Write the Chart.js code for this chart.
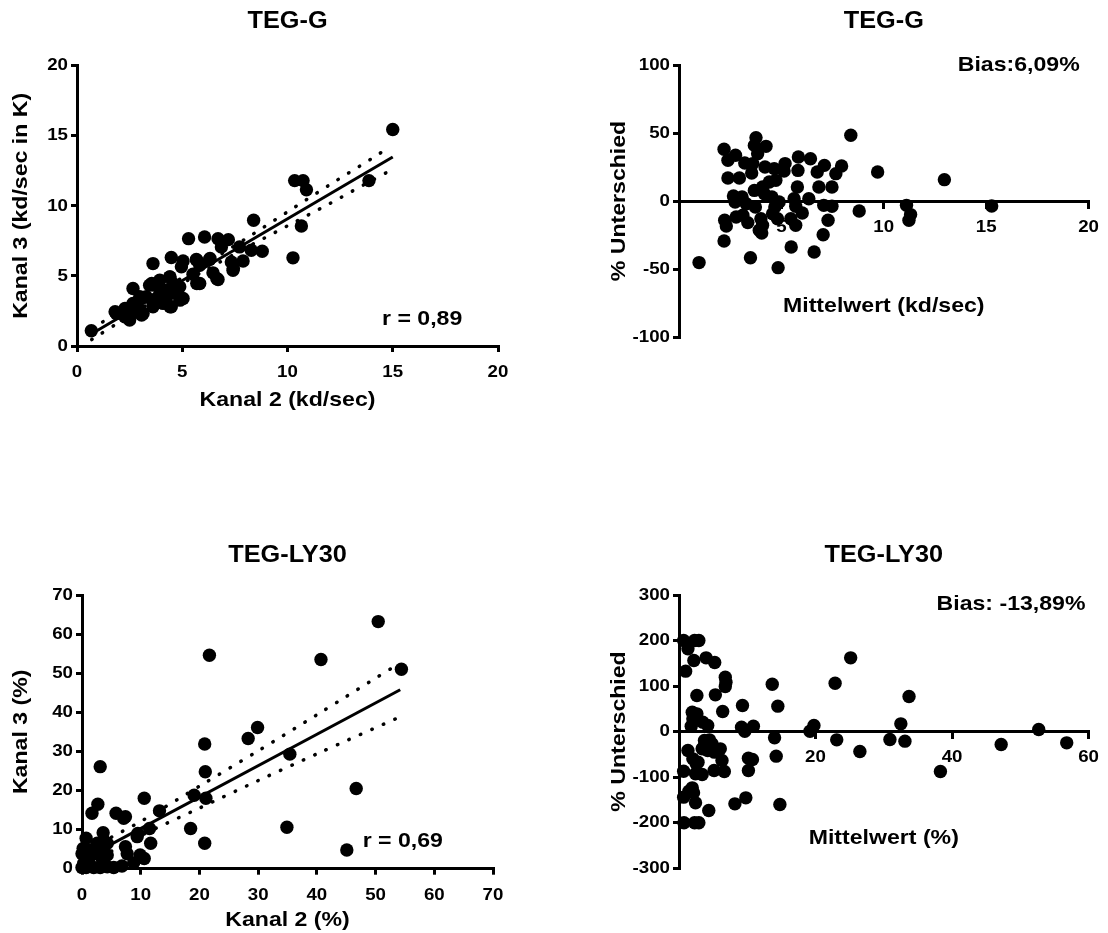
<!DOCTYPE html>
<html>
<head>
<meta charset="utf-8">
<script src="https://cdn.jsdelivr.net/npm/chart.js@4/dist/chart.umd.min.js"></script>
<style>
  html, body { margin: 0; padding: 0; background: #fff; }
  .panel { position: absolute; }
</style>
</head>
<body>
<div class="panel" style="left:0;top:0"><canvas id="g-corr" width="540" height="420"></canvas></div>
<div class="panel" style="left:590px;top:0"><canvas id="g-ba" width="518" height="420"></canvas></div>
<div class="panel" style="left:0;top:534px"><canvas id="ly-corr" width="540" height="399"></canvas></div>
<div class="panel" style="left:590px;top:534px"><canvas id="ly-ba" width="518" height="399"></canvas></div>
<script>
// TEG-G: Kanal 2 vs Kanal 3 (kd/sec)
const g_kanal2 = [0.68, 15.0, 10.34, 10.74, 10.9, 10.66, 10.26, 13.87, 8.39, 8.8, 8.28, 7.89, 7.72, 7.19, 6.70, 6.86, 7.41, 7.33, 6.06, 5.30, 6.30, 5.67, 5.04, 4.96, 6.70, 6.46, 5.83, 5.51, 5.83, 4.48, 3.61, 2.66, 3.45, 3.69, 3.93, 4.40, 4.56, 4.88, 5.04, 4.48, 4.09, 3.77, 3.61, 3.14, 2.98, 2.58, 2.50, 2.34, 1.87, 2.82, 3.29, 4.24, 4.72, 4.32, 2.98, 2.66, 2.27, 2.58, 1.81, 2.28, 3.07, 3.55, 4.42, 4.89, 5.69, 6.32, 7.43, 6.64, 5.69, 3.94, 3.62, 2.76, 4.42];
const g_kanal3 = [1.09, 15.45, 11.8, 11.8, 11.15, 8.56, 6.29, 11.8, 8.97, 6.76, 6.83, 6.07, 7.07, 7.59, 7.66, 7.07, 5.41, 6.0, 7.78, 7.66, 6.17, 6.17, 6.07, 5.65, 4.74, 5.22, 4.46, 5.12, 5.76, 6.31, 5.88, 4.10, 4.34, 4.34, 4.70, 4.93, 4.46, 4.22, 3.39, 2.80, 3.04, 3.39, 2.80, 2.32, 2.56, 2.32, 1.85, 2.56, 2.32, 3.04, 3.51, 3.99, 3.75, 3.63, 3.51, 3.04, 2.09, 2.80, 2.44, 2.68, 2.21, 4.46, 4.93, 3.27, 6.12, 6.24, 5.53, 4.82, 4.46, 3.75, 3.04, 2.44, 2.80];
const g_fitX = [0.68, 15.0];
const g_fitY = [0.86, 13.48];
const g_bandX = [0.7, 2, 4, 6, 8, 10, 12, 14, 14.8];
const g_bandUpper = [1.30, 2.35, 4.00, 5.77, 7.64, 9.57, 11.50, 13.37, 14.15];
const g_bandLower = [0.46, 1.69, 3.56, 5.33, 6.98, 8.57, 10.16, 11.81, 12.45];

// TEG-G: Bland-Altman
const g_mean = [0.98, 2.20, 2.39, 2.76, 2.39, 2.95, 2.23, 2.31, 2.20, 3.49, 2.66, 2.74, 3.08, 3.28, 3.21, 3.55, 3.60, 3.76, 3.68, 4.25, 3.84, 4.20, 4.65, 4.73, 4.41, 4.08, 3.68, 4.17, 4.54, 4.68, 4.57, 4.81, 4.08, 4.00, 4.04, 3.73, 3.36, 2.79, 3.12, 4.84, 5.18, 5.13, 5.83, 5.81, 5.78, 5.62, 5.70, 6.02, 5.46, 5.70, 5.48, 6.34, 6.42, 6.75, 7.10, 6.83, 7.07, 7.47, 7.28, 7.04, 6.60, 7.66, 7.94, 7.47, 8.39, 8.80, 9.70, 11.11, 11.31, 11.23, 12.96, 15.27, 3.92, 4.89];
const g_diff = [-45.3, 38.0, 29.9, 33.6, 16.9, 16.9, -14.2, -18.4, -29.4, -41.7, 3.7, -0.7, 2.9, -2.0, 27.9, 20.6, 27.5, 46.6, 40.9, 40.2, 34.8, 25.0, 23.8, 15.2, 14.0, 10.3, 7.8, 5.4, 2.9, -4.4, -9.3, -13.0, -17.9, -13.0, -23.5, -4.4, -15.9, -11.8, -10.5, -49.0, 27.5, 22.1, 32.4, 22.5, 10.3, 1.7, -3.9, -8.8, -13.0, -17.9, -33.8, 1.7, 31.1, 21.3, 26.2, 10.3, -3.2, -3.9, -14.2, -24.8, -37.5, 20.1, 25.7, 10.3, 48.3, -7.4, 21.3, -3.2, -10.0, -14.2, 15.7, -3.7, -21.5, -0.7];

// TEG-LY30: Kanal 2 vs Kanal 3 (%)
const ly_kanal2 = [50.45, 40.7, 21.7, 54.4, 29.9, 28.3, 20.9, 3.1, 21.0, 35.4, 46.7, 19.1, 21.1, 10.6, 2.7, 13.2, 1.7, 5.8, 7.4, 7.1, 11.5, 18.5, 34.9, 9.5, 9.4, 3.6, 11.7, 20.9, 45.1, 0.7, 9.9, 10.6, 8.8, 7.7, 7.4, 0.2, 0.0, 0.0, 1.1, 2.3, 3.1, 4.3, 2.6, 1.4, 3.4, 2.0, 4.3, 5.4, 6.8, 0.7, 3.1, 4.3, 3.7, 0.3];
const ly_kanal3 = [63.2, 53.5, 54.6, 51.0, 36.1, 33.3, 31.9, 26.1, 24.8, 29.3, 20.5, 18.8, 18.0, 18.0, 16.5, 14.8, 14.2, 14.2, 13.3, 12.9, 10.3, 10.3, 10.6, 9.0, 8.2, 9.2, 6.5, 6.5, 4.8, 7.8, 3.5, 2.6, 1.5, 3.8, 5.6, 5.2, 3.8, 0.3, 2.2, 3.9, 5.6, 6.5, 6.5, 4.8, 2.6, 0.3, 0.5, 0.3, 0.7, 0.3, 0.3, 3.5, 7.3, 1.4];
const ly_fitX = [0, 54.2];
const ly_fitY = [2.24, 45.76];
const ly_bandX = [5, 10, 20, 30, 40, 54.2];
const ly_bandUpper = [8.06, 12.07, 21.1, 30.13, 39.36, 52.66];
const ly_bandLower = [4.46, 8.47, 15.5, 22.53, 29.36, 38.86];

// TEG-LY30: Bland-Altman
const ly_mean = [0.68, 2.28, 2.91, 1.31, 0.97, 2.18, 3.97, 5.23, 6.78, 6.88, 6.78, 2.62, 5.33, 6.40, 1.94, 2.62, 2.03, 3.49, 1.79, 4.21, 9.30, 9.16, 9.64, 10.90, 13.66, 14.48, 14.0, 14.24, 14.78, 8.19, 9.79, 10.17, 10.17, 10.76, 19.19, 19.77, 22.87, 25.15, 23.11, 26.5, 30.9, 32.5, 33.1, 33.7, 38.3, 47.2, 52.7, 56.8, 1.31, 0.68, 2.03, 2.52, 2.79, 3.39, 3.73, 4.46, 4.84, 4.21, 5.18, 6.05, 6.30, 6.64, 5.14, 3.39, 2.42, 1.94, 1.45, 0.68, 2.13, 2.42, 4.36, 0.73, 2.28, 2.91, 3.74];
const ly_diff = [200, 200, 200, 181.7, 132.6, 156, 161.9, 151.6, 119.4, 108.4, 98.9, 79.1, 80.6, 44.0, 42.5, 38.8, 27.8, 20.5, 11.7, 13.2, 57.1, 9.5, 0.7, 11.7, 104.0, 55.7, -13.9, -54.2, -160.4, -159, -145.8, -85.7, -58.6, -61.5, 0.7, 13.2, 106.2, 161.9, -18.3, -44, -17.6, 16.8, -21.2, 76.9, -87.9, -28.6, 4.4, -24.9, -41.8, -87.2, -60.1, -71.1, -67.4, -38.1, -19.8, -18.3, -27.1, -41.8, -45.4, -38.1, -63.7, -87.9, -85.7, -94.5, -93.0, -123.8, -131.1, -144.3, -134.8, -156.8, -173.6, -200.7, -200.7, -200.7, -30.8];

const FONT = "'Liberation Sans', Arial, Helvetica, sans-serif";
Chart.defaults.font.family = FONT;
Chart.defaults.font.weight = 'bold';
Chart.defaults.color = '#000';

// the original lettering is a bit wider than Arial bold: stretch text sideways around its anchor
const TEXT_STRETCH = 1.1;
const origFillText = CanvasRenderingContext2D.prototype.fillText;
CanvasRenderingContext2D.prototype.fillText = function (text, x, y, maxWidth) {
    this.save();
    this.translate(x, y);
    this.scale(TEXT_STRETCH, 1);
    if (maxWidth === undefined) origFillText.call(this, text, 0, 0);
    else origFillText.call(this, text, 0, 0, maxWidth / TEXT_STRETCH);
    this.restore();
};

const pairs = (xs, ys) => xs.map((x, i) => ({ x: x, y: ys[i] }));

// text inside the plot (r = ..., Bias ...)
const noteText = {
    id: 'noteText',
    afterDatasetsDraw(chart, args, opts) {
        if (!opts.text) return;
        const ctx = chart.ctx;
        ctx.save();
        ctx.font = 'bold 21px ' + FONT;
        ctx.fillStyle = '#000';
        ctx.textAlign = opts.align;
        ctx.textBaseline = 'middle';
        ctx.fillText(opts.text, chart.scales.x.getPixelForValue(opts.x), chart.scales.y.getPixelForValue(opts.y));
        ctx.restore();
    }
};

const pointSet = (data) => ({
    data: data,
    backgroundColor: '#000',
    borderColor: '#000',
    pointRadius: 6.7,
    pointHoverRadius: 6.7,
    borderWidth: 0,
    clip: false
});
const solidLine = (data) => ({
    data: data,
    showLine: true,
    pointRadius: 0,
    borderColor: '#000',
    borderWidth: 3,
    clip: false
});
const dotLine = (data) => ({
    data: data,
    showLine: true,
    pointRadius: 0,
    borderColor: '#000',
    borderWidth: 3.5,
    borderDash: [0.5, 12],
    borderCapStyle: 'round',
    tension: 0.3,
    clip: false
});

function axis(min, max, step, title, opts) {
    return {
        type: 'linear',
        min: min,
        max: max,
        position: opts.position,
        ticks: {
            stepSize: step,
            font: { size: 17, weight: 'bold' },
            color: '#000',
            padding: opts.tickPad || 3,
            callback: opts.hideZero ? (v) => (v === 0 ? '' : v) : (v) => v
        },
        grid: { drawOnChartArea: false, drawTicks: true, tickLength: 6, color: '#000', lineWidth: 3 },
        border: { display: true, color: '#000', width: 3 },
        title: { display: true, text: title, font: { size: 21, weight: 'bold' }, color: '#000', padding: opts.titlePad },
        afterFit: (scale) => {
            if (opts.width) scale.width = opts.width;
            if (opts.height) scale.height = opts.height;
        }
    };
}

function makeChart(id, cfg) {
    new Chart(document.getElementById(id), {
        type: 'scatter',
        data: { datasets: cfg.datasets },
        options: {
            responsive: false,
            animation: false,
            events: [],
            layout: { padding: cfg.padding },
            scales: { x: cfg.x, y: cfg.y },
            plugins: {
                legend: { display: false },
                tooltip: { enabled: false },
                title: {
                    display: true,
                    text: cfg.title,
                    fullSize: false,
                    color: '#000',
                    font: { size: 23, weight: 'bold' },
                    padding: cfg.titlePad
                },
                noteText: cfg.note
            }
        },
        plugins: [noteText]
    });
}

makeChart('g-corr', {
    title: 'TEG-G',
    titlePad: { top: 8.2, bottom: 29.9 },
    padding: { left: 0, right: 42, top: 0, bottom: 0 },
    datasets: [
        pointSet(pairs(g_kanal2, g_kanal3)),
        solidLine(pairs(g_fitX, g_fitY)),
        dotLine(pairs(g_bandX, g_bandUpper)),
        dotLine(pairs(g_bandX, g_bandLower))
    ],
    x: axis(0, 20, 5, 'Kanal 2 (kd/sec)', { position: 'bottom', height: 74, tickPad: 10, titlePad: { top: 0, bottom: 7.4 } }),
    y: axis(0, 20, 5, 'Kanal 3 (kd/sec in K)', { position: 'left', width: 77, titlePad: { top: 9, bottom: 0 } }),
    note: { text: 'r = 0,89', x: 14.49, y: 1.94, align: 'left' }
});

makeChart('g-ba', {
    title: 'TEG-G',
    titlePad: { top: 8.2, bottom: 29.2 },
    padding: { left: 0, right: 16, top: 0, bottom: 83 },
    datasets: [pointSet(pairs(g_mean, g_diff))],
    x: axis(0, 20, 5, 'Mittelwert (kd/sec)', { position: { y: 0 }, height: 118, hideZero: true, tickPad: 10, titlePad: { top: 0, bottom: 0 } }),
    y: axis(-100, 100, 50, '% Unterschied', { position: 'left', width: 89, titlePad: { top: 17, bottom: 0 } }),
    note: { text: 'Bias:6,09%', x: 19.57, y: 99.8, align: 'right' }
});

makeChart('ly-corr', {
    title: 'TEG-LY30',
    titlePad: { top: 8.2, bottom: 25.2 },
    padding: { left: 0, right: 47, top: 0, bottom: 0 },
    datasets: [
        pointSet(pairs(ly_kanal2, ly_kanal3)),
        solidLine(pairs(ly_fitX, ly_fitY)),
        dotLine(pairs(ly_bandX, ly_bandUpper)),
        dotLine(pairs(ly_bandX, ly_bandLower))
    ],
    x: axis(0, 70, 10, 'Kanal 2 (%)', { position: 'bottom', height: 64.3, tickPad: 10, titlePad: { top: 0, bottom: 0 } }),
    y: axis(0, 70, 10, 'Kanal 3 (%)', { position: 'left', width: 82, titlePad: { top: 9, bottom: 0 } }),
    note: { text: 'r = 0,69', x: 47.8, y: 7.1, align: 'left' }
});

makeChart('ly-ba', {
    title: 'TEG-LY30',
    titlePad: { top: 8.2, bottom: 25.2 },
    padding: { left: 0, right: 16, top: 0, bottom: 65 },
    datasets: [pointSet(pairs(ly_mean, ly_diff))],
    x: axis(0, 60, 20, 'Mittelwert (%)', { position: { y: 0 }, height: 119, hideZero: true, tickPad: 10, titlePad: { top: 0, bottom: 0 } }),
    y: axis(-300, 300, 100, '% Unterschied', { position: 'left', width: 89, titlePad: { top: 17, bottom: 0 } }),
    note: { text: 'Bias: -13,89%', x: 59.55, y: 280, align: 'right' }
});
</script>
</body>
</html>
